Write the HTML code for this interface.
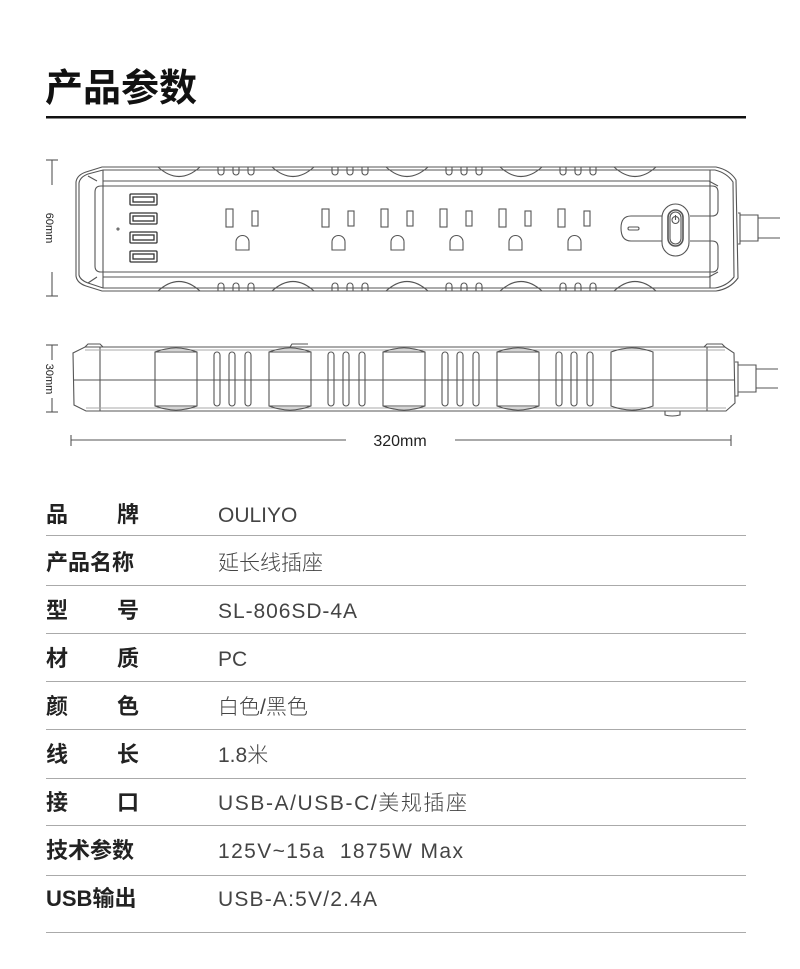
<!DOCTYPE html>
<html><head><meta charset="utf-8"><style>
html,body{margin:0;padding:0;background:#fff;}
svg{display:block;}
.l{font-family:"Liberation Sans","Noto Sans CJK SC",sans-serif;font-weight:bold;font-size:22px;fill:#222;}
.v{font-family:"Liberation Sans","Noto Sans CJK SC",sans-serif;font-weight:300;font-size:21px;fill:#444;}
</style></head><body>
<svg width="800" height="969" viewBox="0 0 800 969" xmlns="http://www.w3.org/2000/svg">
<text x="45" y="101" font-family="Liberation Sans,Noto Sans CJK SC,sans-serif" font-weight="bold" font-size="38" fill="#111">产品参数</text>
<rect x="46" y="116" width="700" height="2.5" fill="#111"/>

<g fill="none" stroke="#555" stroke-width="1.1">
<line x1="52" y1="160" x2="52" y2="185"/><line x1="46" y1="160" x2="58" y2="160"/>
<line x1="52" y1="272" x2="52" y2="296"/><line x1="46" y1="296" x2="58" y2="296"/>
<path d="M102,167 L716,167 Q730,170 736,180 L738,278 Q730,289 716,291 L102,291 L86,286 Q77,283 76,276 L76,182 Q77,175 86,172 Z"/>
<path d="M103,170 L715,170 Q727,173 733,182 L734,277 Q727,286 715,288 L103,288 L88,283 Q80,280 79,275 L79,183 Q80,177 88,174 Z"/>
<line x1="103" y1="170" x2="103" y2="288"/><line x1="710" y1="170" x2="710" y2="288"/>
<path d="M103,181 L709,181 L718,186 M103,277 L709,277 L718,272"/>
<path d="M88,176 L97,181 M88,283 L97,277"/>
<path d="M690,216 L712,216 Q718,216 718,210 L718,192 Q718,186 712,186 L101,186 Q95,186 95,192 L95,266 Q95,272 101,272 L712,272 Q718,272 718,266 L718,247 Q718,241 712,241 L690,241"/>
<path d="M662,216 L631,216 Q621,216 621,228 Q621,241 631,241 L662,241"/>
<rect x="628" y="227" width="11" height="3" rx="1.5"/>
<rect x="662" y="204" width="27" height="52" rx="13.5"/>
<rect x="668" y="210" width="15" height="36" rx="7.5" stroke-width="1.6"/>
<rect x="670" y="212" width="11" height="32" rx="5.5"/>
<circle cx="675.5" cy="220" r="3.5"/><line x1="675.5" y1="215" x2="675.5" y2="220"/>
<path d="M738,213 L740,213 L740,244 L738,244 M740,215 L758,215 L758,241 L740,241 M758,218 L780,218 M758,238 L780,238"/>
<g id="sc">
<path d="M158,167 Q179,186 200,167 M158,291 Q179,272 200,291"/>
<path d="M218,167 v5 a3,3 0 0 0 6,0 v-5 M233,167 v5 a3,3 0 0 0 6,0 v-5 M248,167 v5 a3,3 0 0 0 6,0 v-5"/>
<path d="M218,291 v-5 a3,3 0 0 1 6,0 v5 M233,291 v-5 a3,3 0 0 1 6,0 v5 M248,291 v-5 a3,3 0 0 1 6,0 v5"/>
</g>
<use href="#sc" x="114"/><use href="#sc" x="228"/><use href="#sc" x="342"/>
<path d="M614,167 Q635,186 656,167 M614,291 Q635,272 656,291"/>
<g id="usb" stroke="#333" stroke-width="1.3"><rect x="130" y="194" width="27" height="11" rx="1"/><rect x="133" y="197" width="21" height="5"/></g>
<use href="#usb" y="19"/><use href="#usb" y="38"/><use href="#usb" y="57"/>
<circle cx="118" cy="229" r="1"/>
<g id="ol"><rect x="226" y="209" width="7" height="18"/><rect x="252" y="211" width="6" height="15"/><path d="M236,250 L236,242 A6.5,6.5 0 0 1 249,242 L249,250 Z"/></g>
<use href="#ol" x="96"/><use href="#ol" x="155"/><use href="#ol" x="214"/><use href="#ol" x="273"/><use href="#ol" x="332"/>

<line x1="52" y1="345" x2="52" y2="360"/><line x1="46" y1="345" x2="58" y2="345"/>
<line x1="52" y1="398" x2="52" y2="412"/><line x1="46" y1="412" x2="58" y2="412"/>
<path d="M85,347 L725,347 L734,353 L735,403 L726,411 L86,411 L74,405 L73,353 Z"/>
<line x1="73" y1="380" x2="735" y2="380"/>
<line x1="100" y1="347" x2="100" y2="411"/><line x1="707" y1="347" x2="707" y2="411"/>
<path d="M85,350 L725,350 M86,408 L726,408" stroke="#aaa"/>
<path d="M85,347 L88,344 L100,344 L103,347 M290,347 L292,344 L308,344 M704,347 L707,344 L722,344 L725,347"/>
<path d="M665,411 L665,415 Q672,417 680,415 L680,411"/>
<g id="bx"><path d="M155,352 Q176,344 197,352 L197,406 Q176,414 155,406 Z"/><line x1="155" y1="352" x2="197" y2="352"/><line x1="155" y1="406" x2="197" y2="406"/>
<rect x="214" y="352" width="6" height="54" rx="3"/><rect x="229" y="352" width="6" height="54" rx="3"/><rect x="245" y="352" width="6" height="54" rx="3"/></g>
<use href="#bx" x="114"/><use href="#bx" x="228"/><use href="#bx" x="342"/>
<path d="M611,352 Q632,344 653,352 L653,406 Q632,414 611,406 Z"/>
<path d="M735,362 L738,362 L738,396 L735,396 M738,365 L756,365 L756,392 L738,392 M756,369 L778,369 M756,388 L778,388"/>
<line x1="71" y1="440" x2="346" y2="440"/><line x1="71" y1="435" x2="71" y2="446"/>
<line x1="455" y1="440" x2="731" y2="440"/><line x1="731" y1="435" x2="731" y2="446"/>
</g>
<text x="400" y="446" text-anchor="middle" font-family="Liberation Sans,sans-serif" font-size="16" fill="#222">320mm</text>
<text transform="translate(46,228) rotate(90)" text-anchor="middle" font-family="Liberation Sans,sans-serif" font-size="11" fill="#222">60mm</text>
<text transform="translate(46,379) rotate(90)" text-anchor="middle" font-family="Liberation Sans,sans-serif" font-size="11" fill="#222">30mm</text>

<g fill="#aaa">
<rect x="46" y="535" width="700" height="1"/><rect x="46" y="585" width="700" height="1"/>
<rect x="46" y="633" width="700" height="1"/><rect x="46" y="681" width="700" height="1"/>
<rect x="46" y="729" width="700" height="1"/><rect x="46" y="778" width="700" height="1"/>
<rect x="46" y="825" width="700" height="1"/><rect x="46" y="875" width="700" height="1"/>
<rect x="46" y="932" width="700" height="1"/>
</g>
<text class="l" x="46" y="522">品</text><text class="l" x="117" y="522">牌</text><text class="v" x="218" y="522">OULIYO</text>
<text class="l" x="46" y="570">产品名称</text><text class="v" x="218" y="570">延长线插座</text>
<text class="l" x="46" y="618">型</text><text class="l" x="117" y="618">号</text><text class="v" x="218" y="618" textLength="139">SL-806SD-4A</text>
<text class="l" x="46" y="666">材</text><text class="l" x="117" y="666">质</text><text class="v" x="218" y="666">PC</text>
<text class="l" x="46" y="714">颜</text><text class="l" x="117" y="714">色</text><text class="v" x="218" y="714">白色/黑色</text>
<text class="l" x="46" y="762">线</text><text class="l" x="117" y="762">长</text><text class="v" x="218" y="762">1.8米</text>
<text class="l" x="46" y="810">接</text><text class="l" x="117" y="810">口</text><text class="v" x="218" y="810" textLength="249">USB-A/USB-C/美规插座</text>
<text class="l" x="46" y="858">技术参数</text><text class="v" x="218" y="858" xml:space="preserve" textLength="245">125V~15a  1875W Max</text>
<text class="l" x="46" y="906">USB输出</text><text class="v" x="218" y="906" textLength="159">USB-A:5V/2.4A</text>
</svg>
</body></html>
